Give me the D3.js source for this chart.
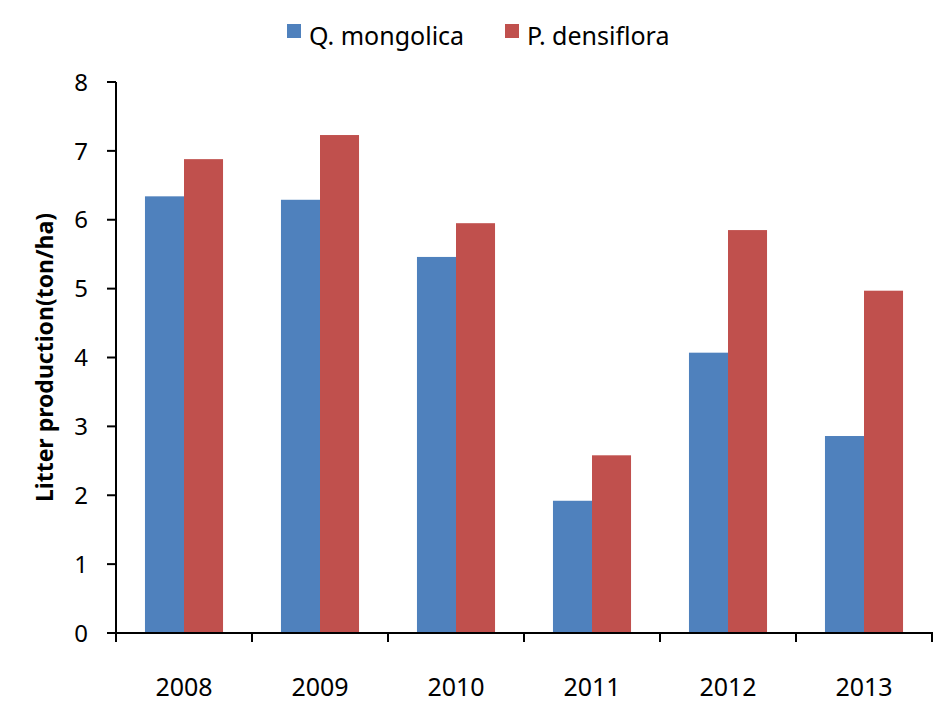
<!DOCTYPE html>
<html><head><meta charset="utf-8">
<script src="https://cdn.jsdelivr.net/npm/d3@7"></script>
<style>body{margin:0;background:#fff}svg{display:block}text{font-family:"Noto Sans","Open Sans",sans-serif;fill:#000}</style>
</head><body>
<svg id="c" width="947" height="722"></svg>
<script>
const years = ["2008","2009","2010","2011","2012","2013"];
const seriesNames = ["Q. mongolica","P. densiflora"];
const qMongolica = [6.34, 6.29, 5.46, 1.92, 4.07, 2.86];
const pDensiflora = [6.88, 7.23, 5.95, 2.58, 5.85, 4.97];
const yTicks = [0,1,2,3,4,5,6,7,8];
const colors = ["#4F81BD","#C0504D"];

(function () {
const svg = d3.select("#c");
const mLeft = 116, mRight = 932, mTop = 82, mBottom = 633;
const x0 = d3.scaleBand().domain(years).range([mLeft, mRight]).paddingInner(0.426).paddingOuter(0.213);
const x1 = d3.scaleBand().domain(seriesNames).range([0, x0.bandwidth()]);
const y = d3.scaleLinear().domain([0, 8]).range([mBottom, mTop]);
const seriesData = [qMongolica, pDensiflora];

seriesNames.forEach((s, si) => {
  svg.append("g").selectAll("rect").data(years).enter().append("rect")
    .attr("x", (d) => x0(d) + x1(s))
    .attr("width", x1.bandwidth())
    .attr("y", (d, i) => y(seriesData[si][i]))
    .attr("height", (d, i) => y(0) - y(seriesData[si][i]))
    .attr("fill", colors[si]);
});

const ya = svg.append("g");
ya.append("line").attr("x1", mLeft).attr("x2", mLeft).attr("y1", y(0) + 1).attr("y2", y(8)).attr("stroke", "#000").attr("stroke-width", 2);
yTicks.forEach(t => {
  ya.append("line").attr("x1", mLeft - 9).attr("x2", mLeft).attr("y1", y(t)).attr("y2", y(t)).attr("stroke", "#000").attr("stroke-width", 2);
  ya.append("text").attr("x", 88).attr("y", y(t)).attr("dy", "0.36em").attr("text-anchor", "end").style("font-size", "24px").text(t);
});

const xa = svg.append("g");
xa.append("line").attr("x1", mLeft - 9).attr("x2", mRight + 1).attr("y1", y(0)).attr("y2", y(0)).attr("stroke", "#000").attr("stroke-width", 2);
const step = x0.step();
for (let i = 0; i <= years.length; i++) {
  const xx = mLeft + i * step;
  xa.append("line").attr("x1", xx).attr("x2", xx).attr("y1", y(0)).attr("y2", y(0) + 9).attr("stroke", "#000").attr("stroke-width", 2);
}
years.forEach(yr => {
  xa.append("text").attr("x", x0(yr) + x0.bandwidth() / 2).attr("y", 696).attr("text-anchor", "middle").style("font-size", "25px").text(yr);
});

svg.append("text").attr("transform", `translate(53,${(mTop + mBottom) / 2}) rotate(-90)`)
  .attr("text-anchor", "middle").style("font-size", "23px").style("font-weight", "bold")
  .text("Litter production(ton/ha)");

const lg = svg.append("g");
const legendX = [287, 505];
seriesNames.forEach((s, i) => {
  lg.append("rect").attr("x", legendX[i]).attr("y", 24).attr("width", 14).attr("height", 14).attr("fill", colors[i]);
  lg.append("text").attr("x", legendX[i] + 22).attr("y", 45).style("font-size", "25px").text(s);
});
})();
</script>
</body></html>
